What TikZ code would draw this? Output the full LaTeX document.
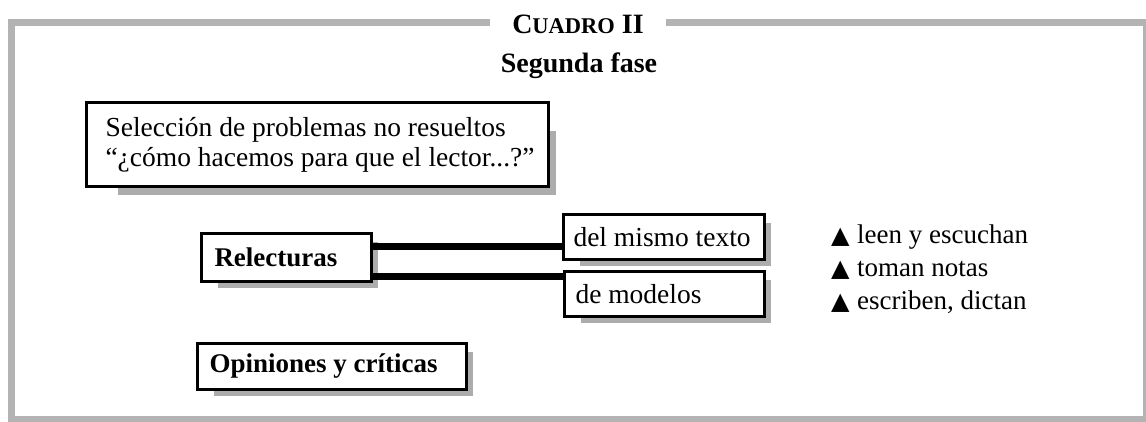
\documentclass[tikz,border=0pt]{standalone}
\usepackage{fontspec}
\setmainfont{Liberation Serif}
\newfontfamily\symfont{DejaVu Sans}
\usetikzlibrary{backgrounds,calc}
\definecolor{framegray}{RGB}{179,179,179}
\definecolor{shadowgray}{RGB}{172,172,172}
\newcommand{\lft}[2]{\makebox[#1][l]{#2}}
\newcommand{\tribullet}{\makebox[26pt][l]{\symfont\fontsize{24}{24}\selectfont ▲}}
\begin{document}
\begin{tikzpicture}[x=1pt,y=-1pt,
  box/.style={draw=black, line width=3pt, fill=white, anchor=north west,
    inner ysep=0pt, align=left, font=\fontsize{27.5}{30}\selectfont},
  boldbox/.style={box, font=\fontsize{27}{30}\selectfont\bfseries},
  conn/.style={line width=7pt, draw=black},
  bullet/.style={anchor=base west, inner sep=0pt, font=\fontsize{27}{30}\selectfont}
]
\useasboundingbox (0,0) rectangle (1146,421);
% frame
\draw[framegray, line width=7pt] (11.5,22.5) rectangle (1146.5,419.5);
\node[fill=white, inner xsep=22pt, inner ysep=2pt, anchor=base,
  font=\fontsize{28}{30}\selectfont\bfseries] (cuadro) at (578,33)
  {C{\fontsize{22.5}{22}\selectfont UADRO} II};
\node[anchor=base, font=\fontsize{28}{30}\selectfont\bfseries] (fase) at (579,72) {Segunda fase};
% boxes
\node[box, inner xsep=19pt, minimum width=462pt, minimum height=84pt] (sel) at (85,101)
  {\lft{424pt}{Selección de problemas no resueltos}\\
   \lft{424pt}{“¿cómo hacemos para que el lector...?”}};
\node[boldbox, inner xsep=13pt, minimum height=48pt] (rel) at (200,232)
  {\lft{144pt}{Relecturas}};
\node[box, inner xsep=10pt, minimum height=45pt] (dm) at (562,213)
  {\lft{181pt}{del mismo texto}};
\node[box, inner xsep=11pt, minimum height=45pt] (mod) at (563,270)
  {\lft{178pt}{de modelos}};
\node[boldbox, inner xsep=12pt, minimum height=46pt] (op) at (196,342)
  {\lft{245pt}{Opiniones y críticas}};
% shadows
\begin{scope}[on background layer]
  \fill[shadowgray] ([xshift=33pt,yshift=-30pt]sel.north west) rectangle ([xshift=6pt,yshift=-7pt]sel.south east);
  \foreach \n in {rel,dm,mod,op}
    \fill[shadowgray] ([xshift=18pt,yshift=-10pt]\n.north west) rectangle ([xshift=5pt,yshift=-5pt]\n.south east);
\end{scope}
% connectors
\draw[conn] ([yshift=11pt]rel.east) -- ([yshift=11pt]rel.east -| dm.west);
\draw[conn] ([yshift=-19pt]rel.east) -- ([yshift=-19pt]rel.east -| mod.west);
% bullets
\node[bullet] (b1) at (831,243) {\tribullet leen y escuchan};
\node[bullet] (b2) at (831,276) {\tribullet toman notas};
\node[bullet] (b3) at (831,309) {\tribullet escriben, dictan};
\end{tikzpicture}
\end{document}
